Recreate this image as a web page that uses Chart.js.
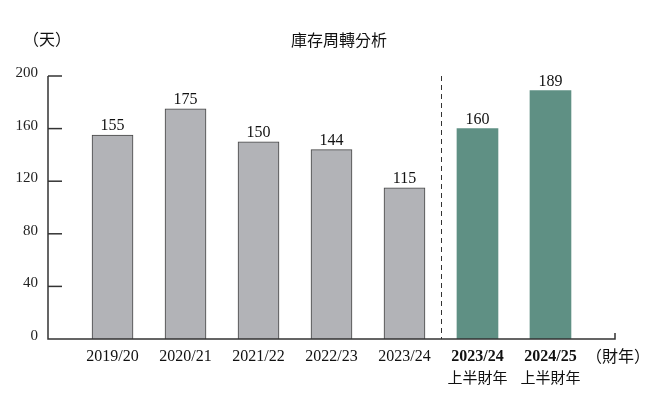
<!DOCTYPE html>
<html>
<head>
<meta charset="utf-8">
<script src="https://cdn.jsdelivr.net/npm/chart.js@4.4.1/dist/chart.umd.min.js"></script>
<style>
  html, body { margin: 0; padding: 0; background: #fff; }
  #wrap { width: 666px; height: 396px; }
</style>
</head>
<body>
<div id="wrap"><canvas id="chart"></canvas></div>
<script>
const years = ['2019/20', '2020/21', '2021/22', '2022/23', '2023/24', '2023/24', '2024/25'];
const subLabels = ['', '', '', '', '', '上半財年', '上半財年'];
const days = [155, 175, 150, 144, 115, 160, 189];
const isHalf = [false, false, false, false, false, true, true];
const yTicks = [0, 40, 80, 120, 160, 200];

const serif = '"Liberation Serif", "DejaVu Serif", serif';
const cjk = '"Noto Sans CJK TC", "Noto Sans", sans-serif';
const axisColor = '#333';

const extras = {
    id: 'extras',
    afterDatasetsDraw(chart) {
        const ctx = chart.ctx;
        const area = chart.chartArea;
        const x = chart.scales.x;
        const y = chart.scales.y;
        ctx.save();

        // axis lines
        ctx.strokeStyle = axisColor;
        ctx.lineWidth = 1.5;
        ctx.beginPath();
        ctx.moveTo(area.left, area.top);
        ctx.lineTo(area.left, area.bottom);
        ctx.lineTo(area.right, area.bottom);
        ctx.lineTo(area.right, area.bottom - 6);
        ctx.stroke();

        // tick marks pointing inward
        y.ticks.forEach(t => {
            if (t.value === 0) return;
            const py = y.getPixelForValue(t.value);
            ctx.beginPath();
            ctx.moveTo(area.left, py);
            ctx.lineTo(area.left + 14, py);
            ctx.stroke();
        });

        // dashed split between full year and half year
        const dx = Math.round(x.getPixelForValue(4.5)) + 0.5;
        ctx.lineWidth = 1;
        ctx.setLineDash([5, 4]);
        ctx.beginPath();
        ctx.moveTo(dx, area.top);
        ctx.lineTo(dx, area.bottom);
        ctx.stroke();
        ctx.setLineDash([]);

        // bar values
        const meta = chart.getDatasetMeta(0);
        ctx.fillStyle = '#111';
        ctx.font = '16px ' + serif;
        ctx.textAlign = 'center';
        ctx.textBaseline = 'bottom';
        meta.data.forEach((bar, i) => {
            ctx.fillText(String(days[i]), bar.x, bar.y - 1);
        });

        // category labels
        ctx.textBaseline = 'middle';
        years.forEach((lab, i) => {
            const px = x.getPixelForValue(i);
            ctx.font = (isHalf[i] ? 'bold ' : '') + '16px ' + serif;
            ctx.fillText(lab, px, area.bottom + 18);
            if (subLabels[i]) {
                ctx.font = '15px ' + cjk;
                ctx.fillText(subLabels[i], px, area.bottom + 38);
            }
        });

        ctx.font = '16px ' + cjk;
        ctx.textAlign = 'left';
        ctx.fillText('（財年）', 586, area.bottom + 17);
        ctx.fillText('（天）', 23, 39);

        ctx.textAlign = 'center';
        ctx.fillText('庫存周轉分析', 339, 40);
        ctx.restore();
    }
};

new Chart(document.getElementById('chart'), {
    type: 'bar',
    data: {
        datasets: [{
            data: days.map((v, i) => ({ x: i, y: v })),
            backgroundColor: isHalf.map(h => h ? '#5f9084' : '#b2b3b7'),
            borderColor: '#444',
            borderWidth: isHalf.map(h => h ? 0 : 1),
            borderSkipped: 'bottom',
            barThickness: 41
        }]
    },
    options: {
        responsive: true,
        maintainAspectRatio: false,
        animation: false,
        layout: {
            padding: { left: 0, right: 51, top: 76, bottom: 57 }
        },
        plugins: {
            legend: { display: false },
            title: { display: false },
            tooltip: { enabled: false }
        },
        scales: {
            x: {
                type: 'linear',
                display: false,
                offset: false,
                min: -0.884,
                max: 6.884
            },
            y: {
                min: 0,
                max: 200,
                afterFit(scale) { scale.width = 48; },
                afterBuildTicks(scale) { scale.ticks = yTicks.map(v => ({ value: v })); },
                border: { display: false },
                grid: { display: false, drawTicks: false },
                ticks: {
                    padding: 10,
                    labelOffset: -3,
                    color: '#222',
                    font: { size: 15, family: serif }
                }
            }
        }
    },
    plugins: [extras]
});
</script>
</body>
</html>
